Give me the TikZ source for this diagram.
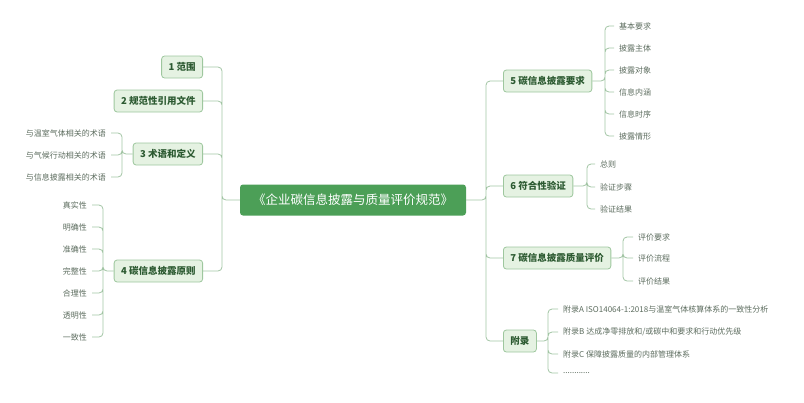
\documentclass[tikz,border=0pt]{standalone}
\usepackage{fontspec}
\setmainfont{Noto Sans CJK SC}
\usepackage{tikz}
\usetikzlibrary{positioning}
\definecolor{rootFill}{RGB}{76, 159, 87}
\definecolor{topicFill}{RGB}{229, 242, 226}
\definecolor{topicEdge}{RGB}{158, 199, 158}
\definecolor{topicText}{RGB}{44, 90, 49}
\definecolor{leafText}{RGB}{92, 108, 94}
\definecolor{linkLine}{RGB}{162, 197, 164}

\begin{document}
\begin{tikzpicture}[x=1bp, y=-1bp,
  root/.style={fill=rootFill, rounded corners=3bp, text=white,
    font=\fontsize{12.5bp}{15bp}\selectfont, minimum height=31bp, inner xsep=13bp},
  topic/.style={draw=topicEdge, fill=topicFill, rounded corners=3bp, text=topicText,
    font=\fontsize{9.5bp}{11bp}\selectfont\bfseries, minimum height=22bp,
    inner xsep=7bp, line width=0.8bp},
  leaf/.style={text=leafText, font=\fontsize{8bp}{10bp}\selectfont,
    inner xsep=5bp, inner ysep=1bp},
  link/.style={draw=linkLine, line width=0.8bp, rounded corners=4bp}]
  \useasboundingbox (0,0) rectangle (804,402);

  \node[root] (root) at (353,200) {《企业碳信息披露与质量评价规范》};

  % Main topics
  \node[topic, anchor=east] (t1) at (203,67) {1 范围};
  \node[topic, anchor=east] (t2) at (203,101) {2 规范性引用文件};
  \node[topic, anchor=east] (t3) at (203,154) {3 术语和定义};
  \node[topic, anchor=east] (t4) at (203,271) {4 碳信息披露原则};
  \node[topic, anchor=west] (t5) at (503,81) {5 碳信息披露要求};
  \node[topic, anchor=west] (t6) at (503,186) {6 符合性验证};
  \node[topic, anchor=west] (t7) at (503,258) {7 碳信息披露质量评价};
  \node[topic, anchor=west] (t8) at (503,341) {附录};

  \coordinate (tl) at (222,200);
  \coordinate (tr) at (486,200);
  \draw[link] (root.west) -- (tl) |- (t1.east) (tl) |- (t2.east)
    (tl) |- (t3.east) (tl) |- (t4.east);
  \draw[link] (root.east) -- (tr) |- (t5.west) (tr) |- (t6.west)
    (tr) |- (t7.west) (tr) |- (t8.west);

  % Terms
  \node[leaf, anchor=east] (l3a) at (111,133) {与温室气体相关的术语};
  \node[leaf, anchor=east] (l3b) at (111,155) {与气候行动相关的术语};
  \node[leaf, anchor=east] (l3c) at (111,177) {与信息披露相关的术语};
  \coordinate (b3) at (122,154);
  \draw[link] (t3.west) -- (b3) |- (l3a.east) (b3) |- (l3b.east) (b3) |- (l3c.east);

  % Principles
  \node[leaf, anchor=east] (l4a) at (92,205) {真实性};
  \node[leaf, anchor=east] (l4b) at (92,227) {明确性};
  \node[leaf, anchor=east] (l4c) at (92,249) {准确性};
  \node[leaf, anchor=east] (l4d) at (92,271) {完整性};
  \node[leaf, anchor=east] (l4e) at (92,293) {合理性};
  \node[leaf, anchor=east] (l4f) at (92,315) {透明性};
  \node[leaf, anchor=east] (l4g) at (92,337) {一致性};
  \coordinate (b4) at (103,271);
  \draw[link] (t4.west) -- (b4) |- (l4a.east) (b4) |- (l4b.east) (b4) |- (l4c.east)
    (b4) |- (l4d.east) (b4) |- (l4e.east) (b4) |- (l4f.east) (b4) |- (l4g.east);

  % Requirements
  \node[leaf, anchor=west] (l5a) at (614,26) {基本要求};
  \node[leaf, anchor=west] (l5b) at (614,48) {披露主体};
  \node[leaf, anchor=west] (l5c) at (614,70) {披露对象};
  \node[leaf, anchor=west] (l5d) at (614,92) {信息内涵};
  \node[leaf, anchor=west] (l5e) at (614,114) {信息时序};
  \node[leaf, anchor=west] (l5f) at (614,136) {披露情形};
  \coordinate (b5) at (605,81);
  \draw[link] (t5.east) -- (b5) |- (l5a.west) (b5) |- (l5b.west) (b5) |- (l5c.west)
    (b5) |- (l5d.west) (b5) |- (l5e.west) (b5) |- (l5f.west);

  % Verification
  \node[leaf, anchor=west] (l6a) at (595,164) {总则};
  \node[leaf, anchor=west] (l6b) at (595,187) {验证步骤};
  \node[leaf, anchor=west] (l6c) at (595,209) {验证结果};
  \coordinate (b6) at (587,186);
  \draw[link] (t6.east) -- (b6) |- (l6a.west) (b6) |- (l6b.west) (b6) |- (l6c.west);

  % Evaluation
  \node[leaf, anchor=west] (l7a) at (633,237) {评价要求};
  \node[leaf, anchor=west] (l7b) at (633,258) {评价流程};
  \node[leaf, anchor=west] (l7c) at (633,281) {评价结果};
  \coordinate (b7) at (623,258);
  \draw[link] (t7.east) -- (b7) |- (l7a.west) (b7) |- (l7b.west) (b7) |- (l7c.west);

  % Annexes
  \node[leaf, anchor=west] (l8a) at (558,309) {附录A ISO14064-1:2018与温室气体核算体系的一致性分析};
  \node[leaf, anchor=west] (l8b) at (558,332) {附录B 达成净零排放和/或碳中和要求和行动优先级};
  \node[leaf, anchor=west] (l8c) at (558,354) {附录C 保障披露质量的内部管理体系};
  \node[leaf, anchor=west] (l8d) at (558,373) {............};
  \coordinate (b8) at (548,341);
  \draw[link] (t8.east) -- (b8) |- (l8a.west) (b8) |- (l8b.west) (b8) |- (l8c.west)
    (b8) |- (l8d.west);
\end{tikzpicture}
\end{document}
